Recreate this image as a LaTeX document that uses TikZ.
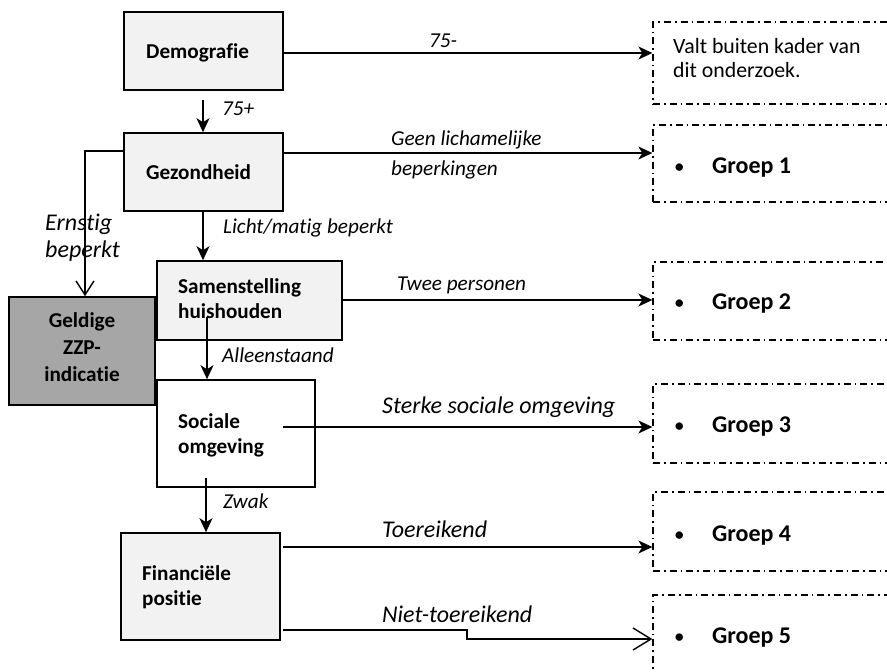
\documentclass[tikz,border=0pt]{standalone}
\usepackage{fontspec}
\setmainfont{Carlito}[Ligatures=NoCommon]
\usetikzlibrary{arrows.meta}

\definecolor{boxlight}{HTML}{F2F2F2}
\definecolor{boxdark}{HTML}{A6A6A6}

% stacked lines, baseline on the first line
\newcommand\stackL[1]{\begin{tabular}[t]{@{}l@{}}#1\end{tabular}}
\newcommand\stackC[1]{\begin{tabular}[t]{@{}c@{}}#1\end{tabular}}
% list bullet in front of a group name
\newcommand\groupbullet{\makebox[39pt][l]{\hspace{1pt}\mdseries\fontsize{21}{24}\selectfont•}}

\begin{document}
\begin{tikzpicture}[x=1pt,y=-1pt,
  stepbox/.style={draw, line width=1.6pt, inner sep=0pt},
  groupbox/.style={draw, line width=1.3pt, inner sep=0pt,
    dash pattern=on 7pt off 4pt on 1.6pt off 4pt,
    minimum width=300pt},
  boxtext/.style={anchor=base west, inner sep=0pt,
    font=\bfseries\fontsize{21.2}{25.5}\selectfont},
  lbl/.style={anchor=base west, inner sep=0pt,
    font=\itshape\fontsize{21.2}{25}\selectfont},
  biglbl/.style={anchor=base west, inner sep=0pt,
    font=\itshape\fontsize{24}{28}\selectfont},
  grouptext/.style={anchor=base west, inner sep=0pt,
    font=\fontsize{21.8}{24}\selectfont},
  grouplabel/.style={anchor=base west, inner sep=0pt,
    font=\bfseries\fontsize{24}{28}\selectfont},
  conn/.style={line width=1.4pt},
  tip/.style={-{Stealth[length=14pt,width=13pt,inset=4pt]}},
  opentip/.style={-{Straight Barb[length=14pt,width=18pt,line width=1.4pt]}},
  opentipwide/.style={-{Straight Barb[length=18pt,width=22pt,line width=1.4pt]}}
]
\useasboundingbox (0,0) rectangle (887,672);
\clip (0,0) rectangle (887,672);

% decision steps
\node[stepbox, fill=boxlight, minimum width=159pt, minimum height=78pt] (demo) at (203.5,51) {};
\node[stepbox, fill=boxlight, minimum width=159pt, minimum height=78pt] (gez) at (203.5,172) {};
\node[stepbox, fill=boxlight, minimum width=185pt, minimum height=79pt] (sam) at (249.5,300.5) {};
\node[stepbox, fill=boxdark, minimum width=146pt, minimum height=108pt] (geld) at (82,351) {};
\node[stepbox, fill=white, minimum width=158pt, minimum height=107pt] (soc) at (236,433.5) {};
\node[stepbox, fill=boxlight, minimum width=159pt, minimum height=107pt] (fin) at (200.5,586.5) {};

\node[boxtext] (demo-t) at (146,58) {Demografie};
\node[boxtext] (gez-t) at (146,179) {Gezondheid};
\node[boxtext] (sam-t) at (178,293) {\stackL{Samenstelling\\huishouden}};
\node[boxtext, anchor=base, font=\bfseries\fontsize{21.2}{27}\selectfont] (geld-t) at (82,327) {\stackC{Geldige\\ZZP-\\indicatie}};
\node[boxtext] (soc-t) at (178,428) {\stackL{Sociale\\omgeving}};
\node[boxtext] (fin-t) at (142,580) {\stackL{Financiële\\positie}};

% outcome groups
\node[groupbox, minimum height=82pt] (g0) at (803,63) {};
\node[groupbox, minimum height=77pt] (g1) at (803,163.5) {};
\node[groupbox, minimum height=78pt] (g2) at (803,301) {};
\node[groupbox, minimum height=79pt] (g3) at (803,423.5) {};
\node[groupbox, minimum height=79pt] (g4) at (803,531.5) {};
\node[groupbox, minimum height=86pt] (g5) at (803,638) {};

\node[grouptext] (g0-t) at (673,53) {\stackL{Valt buiten kader van\\dit onderzoek.}};
\node[grouplabel] (g1-t) at (673,173) {\groupbullet Groep 1};
\node[grouplabel] (g2-t) at (673,309) {\groupbullet Groep 2};
\node[grouplabel] (g3-t) at (673,432) {\groupbullet Groep 3};
\node[grouplabel] (g4-t) at (673,541) {\groupbullet Groep 4};
\node[grouplabel] (g5-t) at (673,643) {\groupbullet Groep 5};

% free ends of connectors
\coordinate (c-75) at (203,100);
\coordinate (c-ern) at (85,151);
\coordinate (c-all) at (207,317);
\coordinate (c-soc) at (283,427);
\coordinate (c-zw) at (206,478);
\coordinate (c-toe) at (283,547);
\coordinate (c-niet) at (283,630);
\coordinate (c-step) at (467,630);

% connectors
\draw[conn, tip] (demo.east |- 0,53) -- (g0.west |- 0,53);
\draw[conn, tip] (c-75) -- (c-75 |- gez.north);
\draw[conn, tip] (gez.east |- 0,153) -- (g1.west |- 0,153);
\draw[conn, opentip] (gez.west |- c-ern) -- (c-ern) -- (c-ern |- geld.north);
\draw[conn, tip] (gez.south -| c-75) -- (sam.north -| c-75);
\draw[conn, tip] (sam.east |- 0,300) -- (g2.west |- 0,300);
\draw[conn, tip] (c-all) -- (c-all |- soc.north);
\draw[conn, tip] (c-soc) -- (g3.west |- c-soc);
\draw[conn, tip] (c-zw) -- (c-zw |- fin.north);
\draw[conn, tip] (c-toe) -- (g4.west |- c-toe);
\draw[conn, opentipwide] (c-niet) -- (c-step) -- (c-step |- 0,639) -- (g5.west |- 0,639);

% connector labels
\node[lbl] (l-75min) at (429,47) {75-};
\node[lbl] (l-75plus) at (222,115) {75+};
\node[lbl, font=\itshape\fontsize{21.2}{30}\selectfont] (l-geen) at (391,145) {\stackL{Geen lichamelijke\\beperkingen}};
\node[lbl, font=\itshape\fontsize{24}{27}\selectfont] (l-ern) at (45,230) {\stackL{Ernstig\\beperkt}};
\node[lbl] (l-licht) at (223,233) {Licht/matig beperkt};
\node[lbl] (l-twee) at (397,290) {Twee personen};
\node[lbl] (l-all) at (222,362) {Alleenstaand};
\node[biglbl] (l-sterk) at (382,413) {Sterke sociale omgeving};
\node[lbl] (l-zwak) at (223,508) {Zwak};
\node[biglbl] (l-toe) at (382,537) {Toereikend};
\node[biglbl] (l-niet) at (382,622) {Niet-toereikend};
\end{tikzpicture}
\end{document}
